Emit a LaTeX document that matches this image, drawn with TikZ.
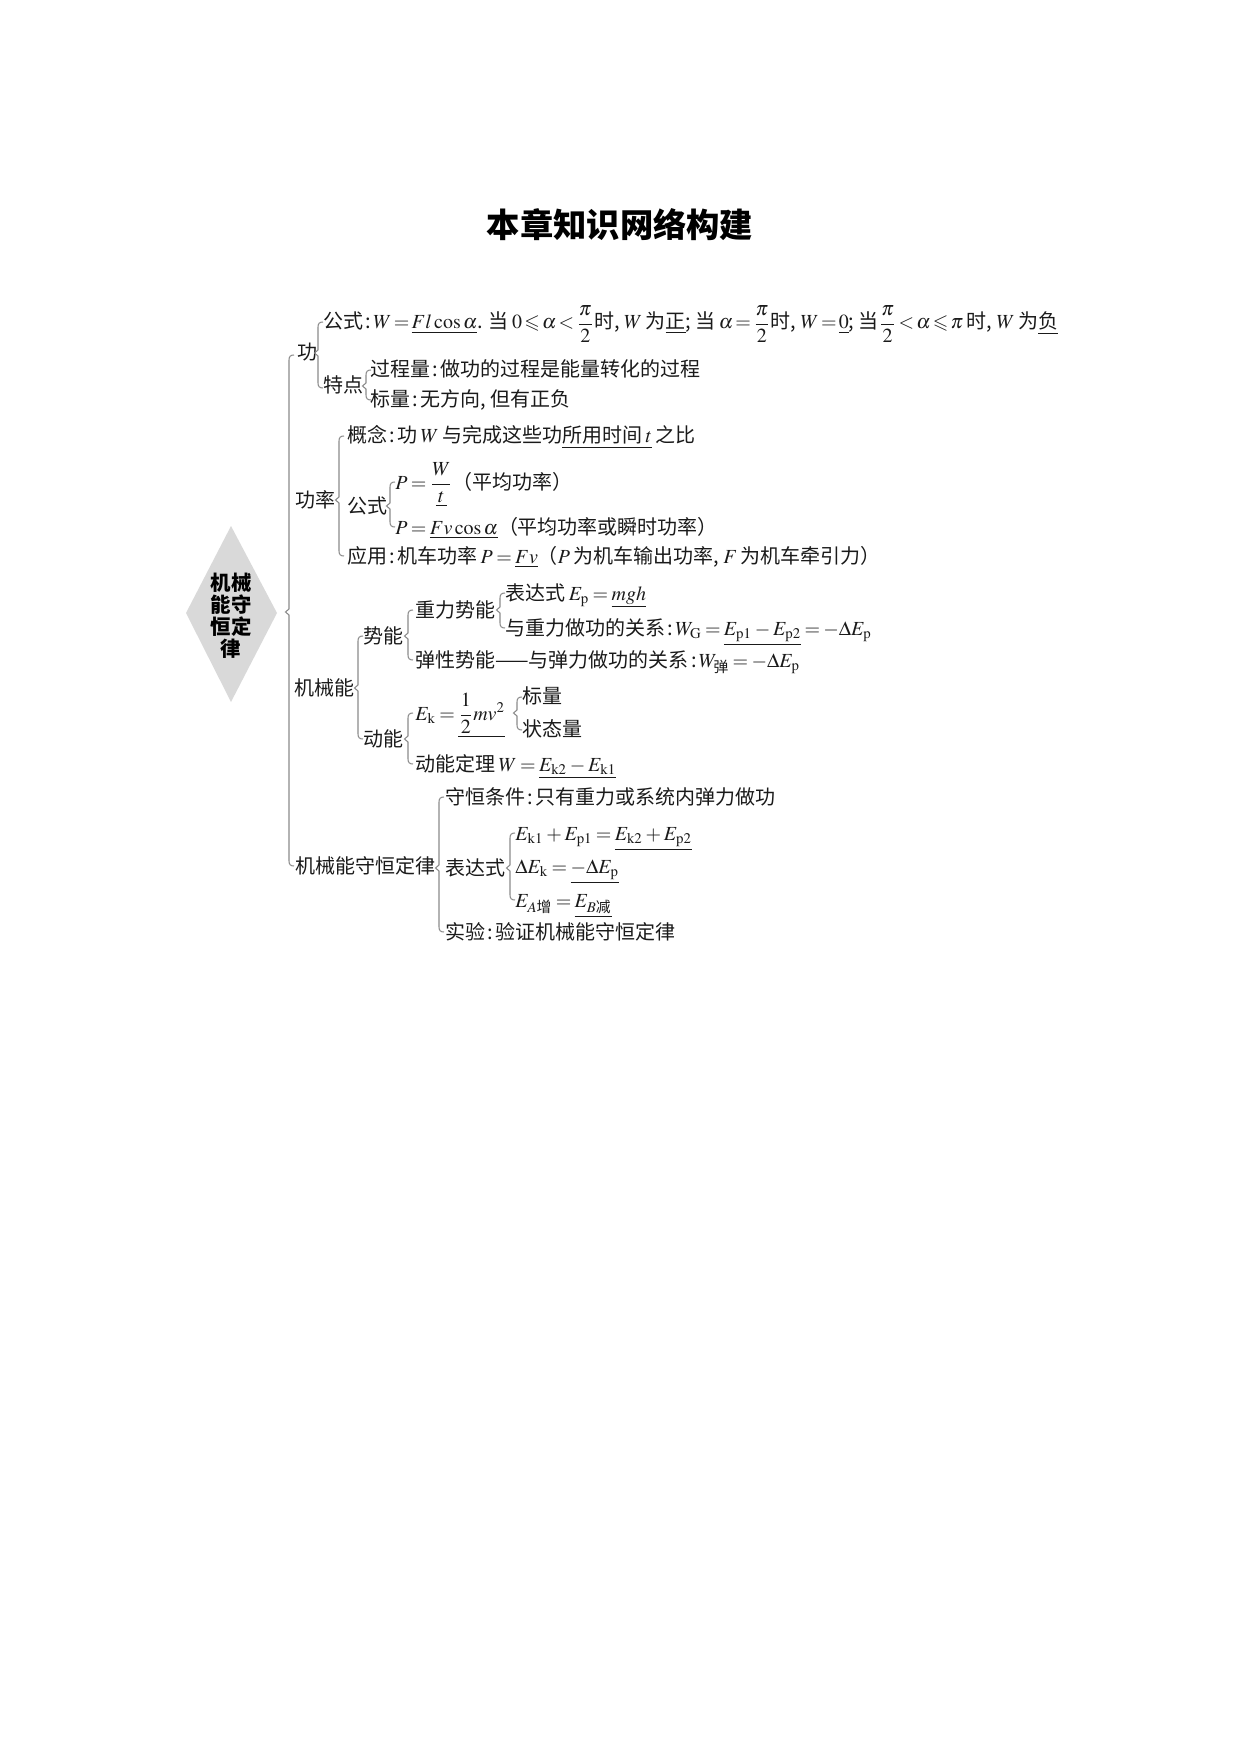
\documentclass[tikz,border=0pt]{standalone}
\usepackage{amsmath}
\usepackage{mathptmx}
\usepackage{amssymb}
\usepackage{fontspec}
\setmainfont{Noto Sans CJK SC}
\usetikzlibrary{shapes.geometric}
\definecolor{txtc}{HTML}{1A1A1A}
\definecolor{brcc}{HTML}{8A8A8A}
\definecolor{dia}{HTML}{D9D9D9}
\newcommand\cc{\makebox[0.5em][c]{:}}
\newcommand\cm{\makebox[0.5em][l]{,}}
\newcommand\sm{\makebox[0.5em][l]{;}}
\newcommand\tightA{\thickmuskip=3mu\relax}
\newcommand\tightB{\thickmuskip=2mu\relax\medmuskip=2mu\relax}
\newcommand\mybrace[4]{%
  \draw[brc] (#1+5,#2) .. controls (#1+1.5,#2) and (#1,#2+1.5) .. (#1,#2+5)
    -- (#1,#3-3) -- (#1-3.5,#3) -- (#1,#3+3) -- (#1,#4-5)
    .. controls (#1,#4-1.5) and (#1+1.5,#4) .. (#1+5,#4);}
\begin{document}
\begin{tikzpicture}[x=0.48006pt,y=-0.48006pt,
  txt/.style={anchor=base west,inner sep=0pt,text=txtc,font=\fontsize{9.6}{11.5}\selectfont\tightA},
  brc/.style={draw=brcc,line width=0.5pt}]
\useasboundingbox (0,0) rectangle (1240,1754);
% title
\node[font=\fontsize{16}{19}\selectfont\bfseries,text=black,inner sep=0pt] (title) at (620,225) {本章知识网络构建};
% root diamond
\fill[dia] (231,526) -- (277,613) -- (231,702) -- (186,613) -- cycle;
\node[inner sep=0pt,align=center,font=\fontsize{9.8}{10.6}\selectfont\bfseries,text=black] (root) at (231,616) {机械\\能守\\恒定\\律};
% main brace
\mybrace{289}{355}{612}{866}
% 功
\node[txt] (gong) at (297,360) {功};
\mybrace{318}{322}{353}{388}
\node[txt,font=\fontsize{9.6}{11.5}\selectfont\tightB] (gsh) at (323,329) {公式\cc$W=\underline{Fl\cos\alpha}$. 当\,$0\leqslant\alpha<\dfrac{\pi}{2}$时\cm$W$\,为\underline{正}\sm 当\,$\alpha=\dfrac{\pi}{2}$时\cm$W=\underline{0}$\sm 当$\dfrac{\pi}{2}<\alpha\leqslant\pi$\,时\cm$W$\,为\underline{负}};
\node[txt] (td) at (323,393) {特点};
\mybrace{366}{370}{386}{400}
\node[txt] (gcl) at (370,377) {过程量\cc 做功的过程是能量转化的过程};
\node[txt] (bl) at (370,407) {标量\cc 无方向\cm 但有正负};
% 功率
\node[txt] (gl) at (295,507) {功率};
\mybrace{339}{436}{500}{556}
\node[txt] (gn) at (347,443) {概念\cc 功\,$W$\,与完成这些功\underline{所用时间\,$t$}\,之比};
\node[txt] (gs2) at (347,513) {公式};
\mybrace{390}{482}{506}{527}
\node[txt] (pw) at (395,489) {$P=\dfrac{W}{\underline{\,t\,}}$（平均功率）};
\node[txt] (pf) at (395,534) {$P=\underline{Fv\cos\alpha}$（平均功率或瞬时功率）};
\node[txt] (yy) at (347,563) {应用\cc 机车功率\,$P=\underline{Fv}$（$P$\,为机车输出功率\cm$F$\,为机车牵引力）};
% 机械能
\node[txt] (jxn) at (294,695) {机械能};
\mybrace{358}{636}{688}{739}
\node[txt] (sn) at (363,643) {势能};
\mybrace{408}{610}{636}{660}
\node[txt] (zl) at (415,617) {重力势能};
\mybrace{500}{593}{610}{628}
\node[txt] (bds) at (505,600) {表达式\,$E_{\mathrm{p}}=\underline{mgh}$};
\node[txt] (gx) at (505,635) {与重力做功的关系\cc$W_{\mathrm{G}}=\underline{E_{\mathrm{p1}}-E_{\mathrm{p2}}}=-\Delta E_{\mathrm{p}}$};
\node[txt] (tx) at (415,667) {弹性势能——与弹力做功的关系\cc$W_{\text{弹}}=-\Delta E_{\mathrm{p}}$};
\node[txt] (dn) at (363,746) {动能};
\mybrace{408}{713}{739}{764}
\node[txt] (ek) at (415,720) {$E_{\mathrm{k}}=\underline{\dfrac{1}{2}mv^{2}}$};
\mybrace{517}{697}{713}{730}
\node[txt] (bl2) at (522,703) {标量};
\node[txt] (ztl) at (522,736) {状态量};
\node[txt] (dnd) at (415,771) {动能定理\,$W=\underline{E_{\mathrm{k2}}-E_{\mathrm{k1}}}$};
% 机械能守恒定律
\node[txt] (shd) at (295,873) {机械能守恒定律};
\mybrace{439}{797}{868}{932}
\node[txt] (shtj) at (445,804) {守恒条件\cc 只有重力或系统内弹力做功};
\node[txt] (bds2) at (445,875) {表达式};
\mybrace{510}{833}{868}{900}
\node[txt] (e1) at (515,840) {$E_{\mathrm{k1}}+E_{\mathrm{p1}}=\underline{E_{\mathrm{k2}}+E_{\mathrm{p2}}}$};
\node[txt] (e2) at (515,873) {$\Delta E_{\mathrm{k}}=\underline{-\Delta E_{\mathrm{p}}}$};
\node[txt] (e3) at (515,907) {$E_{A\text{增}}=\underline{E_{B\text{减}}}$};
\node[txt] (sy) at (445,939) {实验\cc 验证机械能守恒定律};
\end{tikzpicture}
\end{document}
